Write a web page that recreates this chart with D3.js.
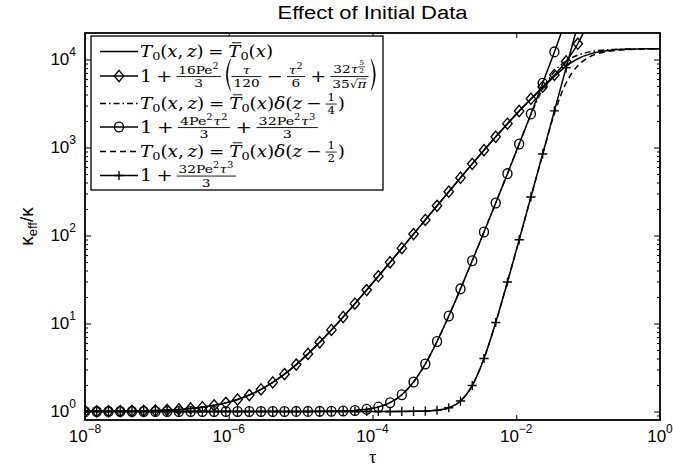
<!DOCTYPE html>
<html><head><meta charset="utf-8">
<script src="https://cdn.jsdelivr.net/npm/d3@7/dist/d3.min.js"></script>
<style>body{margin:0;background:#fff}svg{display:block}</style>
</head><body>
<svg id="c" width="673" height="468"></svg>
<script>
// ---------------- data ----------------
const tau = [1e-8,1.4563e-8,2.1214e-8,3.0897e-8,4.4999e-8,6.5541e-8,9.541e-8,1.3895e-7,2.0238e-7,2.9476e-7,4.2932e-7,6.2527e-7,9.1068e-7,1.3257e-6,1.9307e-6,2.8118e-6,4.0953e-6,5.9648e-6,8.6876e-6,1.2649e-5,1.842e-5,2.6827e-5,3.9069e-5,5.6905e-5,8.288e-5,1.2065e-4,1.7575e-4,2.5595e-4,3.7276e-4,5.4287e-4,7.9068e-4,1.1514e-3,1.6766e-3,2.442e-3,3.5565e-3,5.1795e-3,7.5437e-3,1.0985e-2,1.6e-2,2.33e-2,3.3932e-2,4.9417e-2,7.1969e-2,0.10481,0.15265,0.22229,0.32374,0.47149,0.68665,1];
const diamondY = [1.003,1.004,1.006,1.0086,1.0125,1.0182,1.0265,1.0386,1.0562,1.0819,1.1193,1.1737,1.253,1.3683,1.5363,1.781,2.1376,2.657,3.413,4.513,6.115,8.448,11.844,16.789,23.985,34.436,49.655,71.751,103.82,150.28,217.46,314.25,453.08,651.27,931.6,1324,1865.3,2599.5,3580,4882,6677,9495,15108,29233,69480];
const circleY = [1,1,1,1,1,1,1,1,1,1,1,1,1,1,1,1.0001,1.0001,1.0003,1.0006,1.0013,1.0028,1.006,1.0127,1.027,1.0573,1.1214,1.2578,1.547,2.1614,3.4666,6.2427,12.149,24.739,51.666,109.41,233.82,503.84,1095,2407.4,5368.4,12200,28396];
const crossY = [1,1,1,1,1,1,1,1,1,1,1,1,1,1,1,1,1,1,1,1,1,1,1,1,1,1.0001,1.0004,1.0011,1.0035,1.0107,1.033,1.1018,1.3142,1.9709,3.999,10.263,29.62,89.37,274.07,844.3,2605.6,8046,24852];
const solidY = [1.003,1.004,1.006,1.0086,1.0125,1.0182,1.0265,1.0386,1.0562,1.0819,1.1193,1.1737,1.253,1.3683,1.5363,1.781,2.1376,2.657,3.413,4.513,6.115,8.448,11.844,16.789,23.985,34.436,49.655,71.751,103.82,150.28,217.46,314.25,453.08,651.27,931.6,1324,1865.3,2590,3530,4750,6400,8400,10200,11500,12300,12780,13040,13160,13210,13229];
const dashDotY = [1,1,1,1,1,1,1,1,1,1,1,1,1,1,1,1.0001,1.0001,1.0003,1.0006,1.0013,1.0028,1.006,1.0127,1.027,1.0573,1.1214,1.2578,1.547,2.1614,3.4666,6.2427,12.149,24.739,51.666,109.41,233.82,503.84,1095,2350,4600,7300,9600,11200,12200,12750,13000,13130,13190,13215,13229];
const dashedY = [1,1,1,1,1,1,1,1,1,1,1,1,1,1,1,1,1,1,1,1,1,1,1,1,1,1.0001,1.0004,1.0011,1.0035,1.0107,1.033,1.1018,1.3142,1.9709,3.999,10.263,29.62,89.37,274.07,830,2450,5400,8500,10700,11900,12550,12900,13080,13170,13229];
const xTicks = [1e-8,1e-6,1e-4,1e-2,1];
const xTickExp = ["\u22128","\u22126","\u22124","\u22122","0"];
const yTicks = [1,10,100,1000,10000];
const yTickExp = ["0","1","2","3","4"];
const titleText = "Effect of Initial Data";

// ---------------- layout ----------------
const svg = d3.select("#c");
const L = 85, R = 660, T = 33, B = 420;
const x = d3.scaleLog().domain([1e-8, 1]).range([L, R]);
const y = d3.scaleLog().domain([0.8, 2e4]).range([B, T]);
const SANS = "'Liberation Sans', Arial, Helvetica, sans-serif";
const SERIF = "'DejaVu Serif', 'Liberation Serif', serif";
const LW = 1.5, MW = 1.35;

svg.append("defs").append("clipPath").attr("id","clip")
  .append("rect").attr("x",L).attr("y",T).attr("width",R-L).attr("height",B-T);

const plot = svg.append("g").attr("clip-path","url(#clip)");

const line = arr => d3.line().x((d,i)=>x(tau[i])).y(d=>y(d)).curve(d3.curveMonotoneX)(arr);

function drawLine(arr, dash){
  plot.append("path").attr("d", line(arr)).attr("fill","none")
    .attr("stroke","#000").attr("stroke-width",LW)
    .attr("stroke-dasharray", dash || null);
}
const diamondPath = "M0,-5.6L4.7,0L0,5.6L-4.7,0Z";
const crossPath = "M-4.6,0H4.6M0,-4.6V4.6";
function marker(g, type){
  if (type==="d") g.append("path").attr("d",diamondPath);
  else if (type==="o") g.append("ellipse").attr("rx",4.5).attr("ry",4.9);
  else g.append("path").attr("d",crossPath);
  g.selectAll("*").attr("fill","none").attr("stroke","#000").attr("stroke-width",MW);
}
function drawMarkers(arr, type){
  arr.forEach((v,i)=>{
    const px = x(tau[i]), py = y(v);
    if (py < T - 8) return;
    marker(plot.append("g").attr("transform",`translate(${px},${py})`), type);
  });
}

drawLine(solidY);
drawLine(dashDotY, "6,3,1.5,3");
drawLine(dashedY, "6,4");
drawLine(diamondY); drawMarkers(diamondY,"d");
drawLine(circleY); drawMarkers(circleY,"o");
drawLine(crossY); drawMarkers(crossY,"+");

// ---------------- axes ----------------
function clean(g){ g.select(".domain").remove(); g.selectAll("text").remove();
  g.selectAll("line").attr("stroke","#000").attr("stroke-width",1); }
const yMinor = [];
[0.1,1,10,100,1000,10000].forEach(dec=>{ for(let m=2;m<=9;m++){ const v=m*dec; if(v>0.8 && v<2e4) yMinor.push(v);} });
svg.append("g").attr("transform",`translate(0,${B})`).call(d3.axisBottom(x).tickValues(xTicks).tickSize(-5)).call(clean);
svg.append("g").attr("transform",`translate(0,${T})`).call(d3.axisTop(x).tickValues(xTicks).tickSize(-5)).call(clean);
svg.append("g").attr("transform",`translate(${L},0)`).call(d3.axisLeft(y).tickValues(yTicks).tickSize(-6)).call(clean);
svg.append("g").attr("transform",`translate(${L},0)`).call(d3.axisLeft(y).tickValues(yMinor).tickSize(-3)).call(clean);
svg.append("g").attr("transform",`translate(${R},0)`).call(d3.axisRight(y).tickValues(yTicks).tickSize(-6)).call(clean);
svg.append("g").attr("transform",`translate(${R},0)`).call(d3.axisRight(y).tickValues(yMinor).tickSize(-3)).call(clean);
svg.append("rect").attr("x",L).attr("y",T).attr("width",R-L).attr("height",B-T)
  .attr("fill","none").attr("stroke","#000").attr("stroke-width",1.8);

// tick labels
xTicks.forEach((t,i)=>{
  const tx = svg.append("text").attr("x",x(t)).attr("y",442).attr("text-anchor","middle")
    .attr("font-family",SANS).attr("font-size",17);
  tx.append("tspan").text("10");
  tx.append("tspan").attr("dy",-9).attr("font-size",12).text(xTickExp[i]);
});
yTicks.forEach((t,i)=>{
  const tx = svg.append("text").attr("x",76).attr("y",y(t)+6).attr("text-anchor","end")
    .attr("font-family",SANS).attr("font-size",17);
  tx.append("tspan").text("10");
  tx.append("tspan").attr("dy",-9).attr("font-size",12).text(yTickExp[i]);
});

// title & labels
svg.append("text").attr("x",(L+R)/2).attr("y",19).attr("text-anchor","middle")
  .attr("font-family",SANS).attr("font-size",18)
  .attr("textLength",190).attr("lengthAdjust","spacingAndGlyphs").text(titleText);
svg.append("text").attr("x",(L+R)/2).attr("y",463).attr("text-anchor","middle")
  .attr("font-family",SANS).attr("font-size",17).text("\u03c4");
const yl = svg.append("text").attr("transform",`translate(33,${(T+B)/2}) rotate(-90)`)
  .attr("text-anchor","middle").attr("font-family",SANS).attr("font-size",19);
yl.append("tspan").text("\u03ba");
yl.append("tspan").attr("dy",4).attr("font-size",13).text("eff");
yl.append("tspan").attr("dy",-4).text("/\u03ba");

// ---------------- legend with math ----------------
const legX = 91, legY = 36, legW = 292, legH = 154;
const leg = svg.append("g");
leg.append("rect").attr("x",legX).attr("y",legY).attr("width",legW).attr("height",legH)
  .attr("fill","#fff").attr("stroke","#000").attr("stroke-width",1.3);

function drawRow(parent, nodes, fs){
  let cx = 0;
  nodes.forEach(n=>{
    const g = parent.append("g").attr("transform",`translate(${cx},0)`);
    cx += drawNode(g, n, fs);
  });
  return cx;
}
function drawNode(g, n, fs){
  if (typeof n === "string") n = {t:n};
  const pre = (n.l||0)*fs, post = (n.r||0)*fs;
  if (n.paren){
    // tall delimiter drawn as a filled crescent
    const c = -0.4*fs, h = 0.95*fs, w = 0.42*fs;
    const left = n.paren === "(";
    const xe = left ? pre + 0.36*fs : pre + 0.06*fs;       // end points
    const xo = left ? pre - 0.08*fs : pre + 0.5*fs;        // outer control
    const xi = left ? pre + 0.06*fs : pre + 0.36*fs;       // inner control
    g.append("path")
      .attr("d",`M${xe},${c-h}Q${xo},${c} ${xe},${c+h}Q${xi},${c} ${xe},${c-h}Z`)
      .attr("fill","#000").attr("stroke","#000").attr("stroke-width",0.4);
    return pre + w + post;
  }
  if (n.f){
    const f2 = fs*(n.s||0.72);
    const gap = (n.gap||0)*fs;
    const gn = g.append("g"), gd = g.append("g");
    const wn = drawRow(gn, n.f, f2), wd = drawRow(gd, n.d, f2);
    const w = Math.max(wn, wd) + 0.2*fs;
    const ay = -0.3*fs;
    gn.attr("transform",`translate(${pre+(w-wn)/2},${ay-0.16*fs-gap})`);
    gd.attr("transform",`translate(${pre+(w-wd)/2},${ay+0.72*f2+0.12*fs+gap})`);
    g.append("line").attr("x1",pre).attr("x2",pre+w).attr("y1",ay).attr("y2",ay)
      .attr("stroke","#000").attr("stroke-width",Math.max(0.6,0.05*fs));
    return pre + w + post + 0.06*fs;
  }
  if (n.g){
    const gg = g.append("g").attr("transform",`translate(${pre},${(n.dy||0)*fs})`);
    return pre + drawRow(gg, n.g, fs*(n.s||1)) + post;
  }
  if (n.sqrt){
    const t = g.append("text").attr("x",pre).attr("font-size",fs*0.9).attr("font-family",SERIF).text("\u221a");
    const ws = t.node().getComputedTextLength();
    const gg = g.append("g").attr("transform",`translate(${pre+ws},0)`);
    const w = drawRow(gg, n.sqrt, fs);
    g.append("line").attr("x1",pre+ws-0.5).attr("x2",pre+ws+w).attr("y1",-0.74*fs).attr("y2",-0.74*fs)
      .attr("stroke","#000").attr("stroke-width",0.6);
    return pre + ws + w + post;
  }
  const t = g.append("text").attr("x",pre).attr("y",(n.dy||0)*fs)
    .attr("font-size",fs*(n.s||1)).attr("font-family",SERIF)
    .attr("font-style", n.i ? "italic" : "normal").text(n.t);
  const w = t.node().getComputedTextLength();
  if (n.bar){
    g.append("line").attr("x1",pre+0.2*fs).attr("x2",pre+w+0.05*fs).attr("y1",-0.86*fs).attr("y2",-0.86*fs)
      .attr("stroke","#000").attr("stroke-width",0.9);
  }
  return pre + w + post;
}
const sup = c => ({g:[c], s:0.7, dy:-0.42, r:0.04});
const sub0 = {g:["0"], s:0.7, dy:0.2};
const it = c => ({t:c, i:1});
const rel = c => ({t:c, l:0.26, r:0.26});
const bin = c => ({t:c, l:0.22, r:0.22});
const T0 = [it("T"), sub0];
const Tb0 = [{t:"T", i:1, bar:1}, sub0];
const lhs = [...T0, "(", it("x"), ",", {t:"z", i:1, l:0.2}, ")", rel("="), ...Tb0, "(", it("x"), ")"];
const bigL = {paren:"(", l:0.08}, bigR = {paren:")", l:0.02};
const legendRows = [
  {type:"solid", end:273, math: lhs},
  {type:"d", end:378, math: ["1", bin("+"), {f:["16Pe", sup("2")], d:["3"]}, bigL,
     {f:[it("\u03c4")], d:["120"]}, bin("\u2212"), {f:[it("\u03c4"), sup("2")], d:["6"]}, bin("+"),
     {f:["32", it("\u03c4"), {g:[{f:["5"], d:["2"], s:0.8}], s:0.7, dy:-0.35}], d:["35", {sqrt:[it("\u03c0")]}], gap:0.03}, bigR]},
  {type:"dashdot", end:345, math: [...lhs, it("\u03b4"), "(", it("z"), bin("\u2212"), {f:["1"], d:["4"], s:0.64}, ")"]},
  {type:"o", end:319, math: ["1", bin("+"), {f:["4Pe", sup("2"), it("\u03c4"), sup("2")], d:["3"]}, bin("+"),
     {f:["32Pe", sup("2"), it("\u03c4"), sup("3")], d:["3"]}]},
  {type:"dashed", end:345, math: [...lhs, it("\u03b4"), "(", it("z"), bin("\u2212"), {f:["1"], d:["2"], s:0.64}, ")"]},
  {type:"+", end:237, math: ["1", bin("+"), {f:["32Pe", sup("2"), it("\u03c4"), sup("3")], d:["3"]}]}
];
const rowCY = [51.5, 76, 103.5, 127, 151.5, 175.5];
legendRows.forEach((r,i)=>{
  const cy = rowCY[i];
  const ln = leg.append("line").attr("x1",100).attr("x2",138).attr("y1",cy).attr("y2",cy)
    .attr("stroke","#000").attr("stroke-width",LW);
  if (r.type==="dashdot") ln.attr("stroke-dasharray","6,3,1.5,3");
  if (r.type==="dashed") ln.attr("stroke-dasharray","6,4");
  if (["d","o","+"].includes(r.type)) marker(leg.append("g").attr("transform",`translate(119,${cy})`), r.type);
  const mg = leg.append("g");
  const w = drawRow(mg, r.math, 16.5);
  const k = Math.min(1.35, Math.max(1.0, (r.end - 140) / w));
  mg.attr("transform",`translate(140,${cy+5.5}) scale(${k},1)`);
});
</script>
</body></html>
